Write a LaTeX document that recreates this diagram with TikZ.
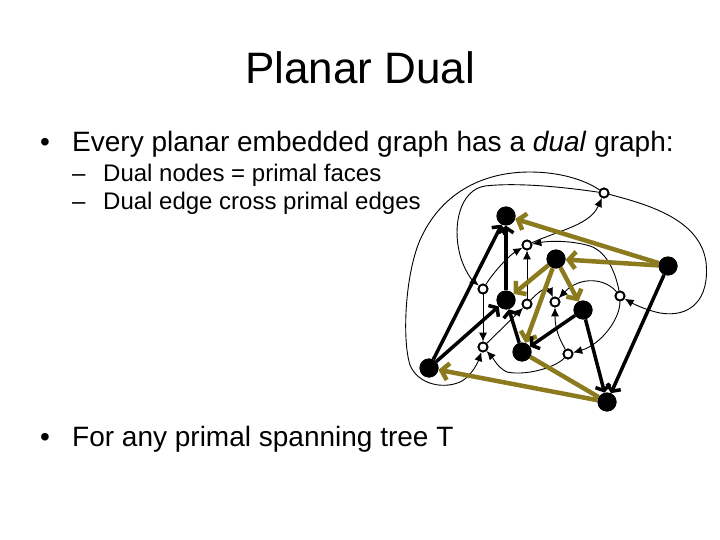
\documentclass[tikz,border=0pt]{standalone}
\usepackage{fontspec}
\setmainfont{Liberation Sans}
\usetikzlibrary{arrows.meta}
\definecolor{olivedge}{RGB}{140,122,30}
\begin{document}
\begin{tikzpicture}[x=1pt,y=-1pt,
 primal/.style={circle,fill=black,inner sep=0pt,minimum size=19pt},
 dualnode/.style={circle,draw=black,fill=white,line width=1.8pt,inner sep=0pt,minimum size=9pt},
 dualedge/.style={line width=0.9pt,-{Latex[length=9pt,width=8pt]}},
 treeedge/.style={line width=3.5pt,-{Straight Barb[length=5pt,width=15pt]}},
 nontree/.style={line width=4.5pt,draw=olivedge,-{Straight Barb[length=7pt,width=17pt]}},
 plainolive/.style={line width=4.5pt,draw=olivedge},
 txt/.style={anchor=base west,inner sep=0pt}]
\useasboundingbox (0,0) rectangle (720,540);

% text
\node[anchor=base,inner sep=0pt] (title) at (360,84) {\fontsize{44}{52}\selectfont Planar Dual};
\node[txt] (b1) at (40,152) {\fontsize{28}{34}\selectfont •};
\node[txt] (t1) at (72,152) {\fontsize{28}{34}\selectfont Every planar embedded graph has a \textit{dual} graph:};
\node[txt] (s1d) at (72,182) {\fontsize{24}{28}\selectfont –};
\node[txt] (s1) at (103,182) {\fontsize{24}{28}\selectfont Dual nodes = primal faces};
\node[txt] (s2d) at (72,210) {\fontsize{24}{28}\selectfont –};
\node[txt] (s2) at (103,210) {\fontsize{24}{28}\selectfont Dual edge cross primal edges};
\node[txt] (b2) at (40,446) {\fontsize{28}{34}\selectfont •};
\node[txt] (t2) at (72,446) {\fontsize{28}{34}\selectfont For any primal spanning tree T};

% primal nodes
\node[primal] (A) at (506,216) {};
\node[primal] (B) at (668,266) {};
\node[primal] (C) at (556,259) {};
\node[primal] (D) at (506,300) {};
\node[primal] (E) at (583,310) {};
\node[primal] (F) at (522,352) {};
\node[primal] (G) at (429,368) {};
\node[primal] (H) at (607,402) {};

% dual nodes
\node[dualnode] (d1) at (604,193) {};
\node[dualnode] (d2) at (527,245) {};
\node[dualnode] (d3) at (483,289) {};
\node[dualnode] (d4) at (555,302) {};
\node[dualnode] (d5) at (620,296) {};
\node[dualnode] (d6) at (527,304) {};
\node[dualnode] (d7) at (483,347) {};
\node[dualnode] (d8) at (568,354) {};

% dual edges
\draw[dualedge] (d1) .. controls (585,180) and (560,172) .. (530,172)
  .. controls (480,172) and (440,195) .. (420,240)
  .. controls (405,275) and (402,340) .. (410,365)
  .. controls (418,385) and (445,390) .. (462,381)
  .. controls (472,375) and (478,362) .. (d7);
\draw[dualedge] (d1) .. controls (570,188) and (520,182) .. (485,186)
  .. controls (460,190) and (452,225) .. (460,255)
  .. controls (464,270) and (472,280) .. (d3);
\draw[dualedge] (d1) .. controls (650,205) and (700,220) .. (706,262)
  .. controls (710,300) and (690,318) .. (660,313)
  .. controls (645,310) and (632,303) .. (d5);
\draw[dualedge] (d2) .. controls (560,230) and (590,225) .. (d1);
\draw[dualedge] (d5) .. controls (616,275) and (608,252) .. (590,246)
  .. controls (570,240) and (548,241) .. (d2);
\draw[dualedge] (d6) -- (d2);
\draw[dualedge] (d3) .. controls (495,270) and (510,255) .. (d2);
\draw[dualedge] (d3) -- (d7);
\draw[dualedge] (d7) -- (d6);
\draw[dualedge] (d6) .. controls (540,290) and (548,286) .. (d4);
\draw[dualedge] (d5) .. controls (605,278) and (580,276) .. (d4);
\draw[dualedge] (d8) .. controls (560,340) and (555,330) .. (d4);
\draw[dualedge] (d5) .. controls (620,320) and (600,345) .. (d8);
\draw[dualedge] (d8) .. controls (555,368) and (525,376) .. (507,372)
  .. controls (498,368) and (493,358) .. (d7);

% primal edges
\draw[nontree] (B) -- (A);
\draw[nontree] (B) -- (C);
\draw[nontree] (C) -- (D);
\draw[nontree] (C) -- (E);
\draw[nontree] (C) -- (F);
\draw[nontree] (H) -- (G);
\draw[plainolive] (F) -- (H);
\draw[treeedge] (G) -- (A);
\draw[treeedge] (D) -- (A);
\draw[treeedge] (G) -- (D);
\draw[treeedge] (F) -- (D);
\draw[treeedge] (E) -- (F);
\draw[treeedge] (E) -- (H);
\draw[treeedge] (B) -- (H);

% redraw nodes on top
\foreach \n in {A,B,C,D,E,F,G,H}{\fill (\n) circle (9.5pt);}
\foreach \n in {d1,d2,d3,d4,d5,d6,d7,d8}{\draw[line width=1.8pt,fill=white] (\n) circle (4.5pt);}
\end{tikzpicture}
\end{document}
